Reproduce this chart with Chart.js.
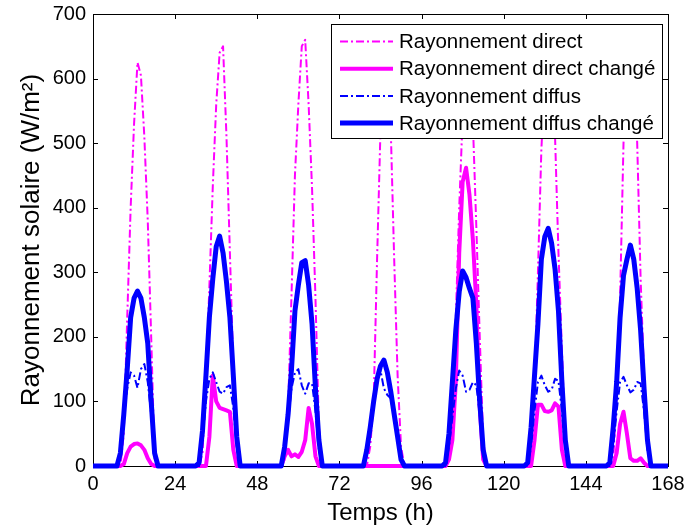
<!DOCTYPE html>
<html>
<head>
<meta charset="utf-8">
<script src="https://cdn.jsdelivr.net/npm/chart.js@4/dist/chart.umd.min.js"></script>
<style>
  html, body { margin: 0; padding: 0; background: #fff; }
  #wrap { width: 687px; height: 528px; position: relative; }
</style>
</head>
<body>
<div id="wrap"><canvas id="solarChart"></canvas></div>
<script>
(function () {
  'use strict';

  // one reading per hour, 0..168 h (7 days)
  const hours = Array.from({ length: 169 }, (_, i) => i);
  const xTicks = [0, 24, 48, 72, 96, 120, 144, 168];
  const yTicks = [0, 100, 200, 300, 400, 500, 600, 700];

  // W/m2, one line per day (24 h), last value is h 168
  const direct = [
    0,0,0,0,0,0,0, 0,0,50,230,400,530,625,605,510,380,200,10, 0,0,0,0,0,
    0,0,0,0,0,0,0, 0,20,130,278,433,560,640,650,510,330,150,30, 0,0,0,0,0,
    0,0,0,0,0,0,0, 0,10,90,265,450,560,650,660,560,430,260,60, 0,0,0,0,0,
    0,0,0,0,0,0,0, 0,0,30,100,320,521,630,640,521,320,140,30, 0,0,0,0,0,
    0,0,0,0,0,0,0, 0,10,110,230,400,540,630,640,530,370,200,40, 0,0,0,0,0,
    0,0,0,0,0,0,0, 0,10,120,300,490,600,650,640,510,330,180,40, 0,0,0,0,0,
    0,0,0,0,0,0,0, 0,10,110,260,500,600,645,620,500,290,140,30, 0,0,0,0,0,
    0
  ];
  const directChanged = [
    0,0,0,0,0,0,0, 0,0,3,20,30,34,35,32,25,12,3,0, 0,0,0,0,0,
    0,0,0,0,0,0,0, 0,0,0,45,140,100,90,88,86,84,25,0, 0,0,0,0,0,
    0,0,0,0,0,0,0, 0,15,25,15,18,14,22,40,90,65,15,0, 0,0,0,0,0,
    0,0,0,0,0,0,0, 0,0,0,0,0,0,0,0,0,0,0,0, 0,0,0,0,0,
    0,0,0,0,0,0,0, 0,10,40,130,330,440,462,420,350,250,90,10, 0,0,0,0,0,
    0,0,0,0,0,0,0, 0,0,40,95,95,85,84,86,97,92,25,0, 0,0,0,0,0,
    0,0,0,0,0,0,0, 0,0,20,65,84,50,12,8,8,12,5,0, 0,0,0,0,0,
    0
  ];
  const diffuse = [
    0,0,0,0,0,0,0, 0,20,75,120,145,140,121,150,158,130,80,20, 0,0,0,0,0,
    0,0,0,0,0,0,0, 0,40,100,135,145,130,115,112,122,125,90,30, 0,0,0,0,0,
    0,0,0,0,0,0,0, 0,25,70,120,145,150,125,112,128,128,85,25, 0,0,0,0,0,
    0,0,0,0,0,0,0, 0,20,55,95,130,148,120,110,105,75,40,8, 0,0,0,0,0,
    0,0,0,0,0,0,0, 0,30,75,120,148,140,115,118,130,125,80,20, 0,0,0,0,0,
    0,0,0,0,0,0,0, 0,30,85,130,140,125,115,118,135,132,85,25, 0,0,0,0,0,
    0,0,0,0,0,0,0, 0,30,85,130,138,125,114,118,130,128,85,25, 0,0,0,0,0,
    0
  ];
  const diffuseChanged = [
    0,0,0,0,0,0,0, 0,20,80,150,230,260,271,260,230,190,100,20, 0,0,0,0,0,
    0,0,0,0,0,0,0, 5,55,140,230,290,340,356,330,285,230,140,45, 0,0,0,0,0,
    0,0,0,0,0,0,0, 0,30,80,150,240,280,315,318,280,220,120,40, 0,0,0,0,0,
    0,0,0,0,0,0,0, 0,25,60,100,135,155,164,145,115,80,45,10, 0,0,0,0,0,
    0,0,0,0,0,0,0, 5,50,130,210,270,302,292,275,260,190,100,25, 0,0,0,0,0,
    0,0,0,0,0,0,0, 5,60,140,220,320,355,368,345,305,240,130,40, 0,0,0,0,0,
    0,0,0,0,0,0,0, 5,60,130,230,295,320,342,320,275,210,120,40, 0,0,0,0,0,
    0
  ];

  const FONT = '"Liberation Sans", Arial, sans-serif';
  const MAGENTA = '#ff00ff';
  const BLUE = '#0000ff';
  const DASHDOT = [8, 3, 2, 3];

  // box + inward tick marks on all four sides (drawn under the lines)
  const frame = {
    id: 'frame',
    beforeDatasetsDraw(chart) {
      const { ctx, chartArea: a, scales: { x, y } } = chart;
      ctx.save();
      ctx.strokeStyle = '#000';
      ctx.lineWidth = 1;
      ctx.beginPath();
      xTicks.forEach(v => {
        const px = Math.round(x.getPixelForValue(v)) + 0.5;
        ctx.moveTo(px, a.bottom); ctx.lineTo(px, a.bottom - 5);
        ctx.moveTo(px, a.top); ctx.lineTo(px, a.top + 5);
      });
      yTicks.forEach(v => {
        const py = Math.round(y.getPixelForValue(v)) + 0.5;
        ctx.moveTo(a.left, py); ctx.lineTo(a.left + 5, py);
        ctx.moveTo(a.right, py); ctx.lineTo(a.right - 5, py);
      });
      ctx.stroke();
      ctx.strokeRect(Math.round(a.left) + 0.5, Math.round(a.top) + 0.5,
        Math.round(a.right - a.left), Math.round(a.bottom - a.top));
      ctx.restore();
    }
  };

  // legend box inside the plot, top right
  const legendBox = {
    id: 'legendBox',
    afterDatasetsDraw(chart) {
      const { ctx, chartArea: a } = chart;
      const items = chart.data.datasets;
      ctx.save();
      ctx.font = '20.5px ' + FONT;
      const textW = Math.max(...items.map(d => ctx.measureText(d.label).width));
      const padL = 9, sample = 53, gap = 6, padR = 7, rowH = 27.2;
      const w = Math.round(padL + sample + gap + textW + padR);
      const h = 114;
      const right = Math.round(a.right) - 6;
      const top = Math.round(a.top) + 10;
      const left = right - w;
      ctx.fillStyle = '#fff';
      ctx.fillRect(left, top, w, h);
      ctx.strokeStyle = '#000';
      ctx.lineWidth = 1;
      ctx.strokeRect(left + 0.5, top + 0.5, w, h);
      items.forEach((d, i) => {
        const cy = top + 17.5 + i * rowH;
        ctx.beginPath();
        ctx.setLineDash(d.borderDash || []);
        ctx.lineWidth = d.borderWidth;
        ctx.strokeStyle = d.borderColor;
        ctx.moveTo(left + padL, cy);
        ctx.lineTo(left + padL + sample, cy);
        ctx.stroke();
        ctx.setLineDash([]);
        ctx.fillStyle = '#000';
        ctx.textBaseline = 'middle';
        ctx.fillText(d.label, left + padL + sample + gap, cy + 1);
      });
      ctx.restore();
    }
  };

  const ctx = document.getElementById('solarChart').getContext('2d');
  window.solarChart = new Chart(ctx, {
    type: 'line',
    data: {
      labels: hours,
      datasets: [
        { label: 'Rayonnement direct', data: direct, borderColor: MAGENTA, borderWidth: 2, borderDash: DASHDOT, order: 4 },
        { label: 'Rayonnement direct changé', data: directChanged, borderColor: MAGENTA, borderWidth: 4, order: 3 },
        { label: 'Rayonnement diffus', data: diffuse, borderColor: BLUE, borderWidth: 2, borderDash: DASHDOT, order: 2 },
        { label: 'Rayonnement diffus changé', data: diffuseChanged, borderColor: BLUE, borderWidth: 5, order: 1 }
      ]
    },
    options: {
      responsive: true,
      maintainAspectRatio: false,
      animation: false,
      layout: { padding: { top: 14, right: 19, left: 0, bottom: 0 } },
      elements: {
        point: { radius: 0, hoverRadius: 0 },
        line: { tension: 0, fill: false, borderJoinStyle: 'round' }
      },
      datasets: { line: { clip: false } },
      scales: {
        x: {
          type: 'linear',
          min: 0,
          max: 168,
          grid: { display: false, drawTicks: false },
          border: { display: false },
          afterBuildTicks: s => { s.ticks = xTicks.map(v => ({ value: v })); },
          afterFit: s => { s.height = 62; s.paddingLeft = 0; s.paddingRight = 0; },
          ticks: { color: '#000', font: { family: FONT, size: 20 }, padding: 6, maxRotation: 0 },
          title: { display: true, text: 'Temps (h)', color: '#000', font: { family: FONT, size: 24 }, padding: { top: 0, bottom: 0 } }
        },
        y: {
          min: 0,
          max: 700,
          grid: { display: false, drawTicks: false },
          border: { display: false },
          afterBuildTicks: s => { s.ticks = yTicks.map(v => ({ value: v })); },
          afterFit: s => { s.width = 93; s.paddingTop = 0; s.paddingBottom = 0; },
          ticks: { color: '#000', font: { family: FONT, size: 20 }, padding: 7 },
          title: { display: true, text: 'Rayonnement solaire (W/m²)', color: '#000', font: { family: FONT, size: 26 }, padding: { top: 16, bottom: 0 } }
        }
      },
      plugins: {
        legend: { display: false },
        tooltip: { enabled: false }
      }
    },
    plugins: [frame, legendBox]
  });
})();
</script>
</body>
</html>
